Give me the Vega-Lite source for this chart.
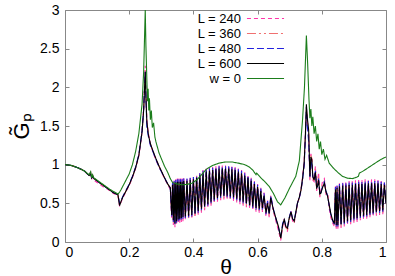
{
"$schema": "https://vega.github.io/schema/vega-lite/v6.json",
"width": 321, "height": 232,
"autosize": {"type": "none"},
"padding": {"left": 65, "top": 10, "right": 9, "bottom": 34},
"config": {
  "font": "Liberation Sans",
  "view": {"stroke": "#888888", "strokeWidth": 1},
  "axis": {"grid": false, "domain": false, "tickColor": "#888888", "tickSize": -4, "labelFontSize": 14, "labelColor": "#000000", "titleFontWeight": "normal", "titleColor": "#000000", "labelFont": "Liberation Sans", "titleFont": "Liberation Sans"}
},
"data": {"values": [
{"t":0,"240":1,"360":1,"480":1,"600":1,"w":1},
{"t":0.02,"240":0.99,"360":0.99,"480":0.99,"600":0.99,"w":0.99},
{"t":0.04,"240":0.96,"360":0.96,"480":0.96,"600":0.96,"w":0.96},
{"t":0.06,"240":0.92,"360":0.92,"480":0.92,"600":0.92,"w":0.92},
{"t":0.075,"240":0.86,"360":0.86,"480":0.86,"600":0.86,"w":0.87},
{"t":0.08,"240":0.9,"360":0.88,"480":0.88,"600":0.88,"w":0.91},
{"t":0.083,"240":0.81,"360":0.83,"480":0.83,"600":0.83,"w":0.83},
{"t":0.086,"240":0.87,"360":0.85,"480":0.85,"600":0.85,"w":0.87},
{"t":0.09,"240":0.8,"360":0.82,"480":0.82,"600":0.82,"w":0.83},
{"t":0.1,"240":0.77,"360":0.79,"480":0.79,"600":0.79,"w":0.8},
{"t":0.11,"240":0.74,"360":0.76,"480":0.76,"600":0.76,"w":0.77},
{"t":0.12,"240":0.71,"360":0.73,"480":0.73,"600":0.73,"w":0.74},
{"t":0.13,"240":0.69,"360":0.7,"480":0.7,"600":0.7,"w":0.71},
{"t":0.14,"240":0.66,"360":0.67,"480":0.67,"600":0.67,"w":0.68},
{"t":0.15,"240":0.63,"360":0.64,"480":0.64,"600":0.64,"w":0.655},
{"t":0.165,"240":0.6,"360":0.61,"480":0.61,"600":0.61,"w":0.62},
{"t":0.17,"240":0.46,"360":0.48,"480":0.5,"600":0.47,"w":0.645},
{"t":0.175,"240":0.52,"360":0.52,"480":0.54,"600":0.53,"w":0.68},
{"t":0.18,"240":0.57,"360":0.58,"480":0.59,"600":0.58,"w":0.72},
{"t":0.19,"240":0.65,"360":0.66,"480":0.67,"600":0.66,"w":0.8},
{"t":0.2,"240":0.73,"360":0.74,"480":0.75,"600":0.74,"w":0.88},
{"t":0.21,"240":0.83,"360":0.84,"480":0.85,"600":0.84,"w":1.0},
{"t":0.22,"240":0.95,"360":0.96,"480":0.97,"600":0.96,"w":1.17},
{"t":0.23,"240":1.11,"360":1.12,"480":1.13,"600":1.12,"w":1.4},
{"t":0.24,"240":1.42,"360":1.42,"480":1.44,"600":1.42,"w":1.78},
{"t":0.245,"240":1.72,"360":1.7,"480":1.72,"600":1.7,"w":2.2},
{"t":0.25,"240":2.28,"360":2.22,"480":2.2,"600":2.2,"w":3.0},
{"t":0.252,"240":1.95,"360":1.9,"480":1.88,"600":1.9,"w":2.55},
{"t":0.255,"240":1.58,"360":1.55,"480":1.48,"600":1.55,"w":2.1},
{"t":0.257,"w":1.82},
{"t":0.259,"w":1.98},
{"t":0.26,"240":1.4,"360":1.38,"480":1.36,"600":1.38},
{"t":0.261,"w":1.7},
{"t":0.263,"w":1.86},
{"t":0.266,"240":1.26,"360":1.27,"480":1.25,"600":1.27,"w":1.58},
{"t":0.269,"w":1.7},
{"t":0.272,"240":1.19,"360":1.2,"480":1.19,"600":1.2,"w":1.48},
{"t":0.276,"w":1.54},
{"t":0.28,"w":1.36},
{"t":0.283,"240":1.06,"360":1.08,"480":1.07,"600":1.08,"w":1.3},
{"t":0.293,"240":0.97,"360":0.98,"480":0.97,"600":0.98,"w":1.15},
{"t":0.3,"240":0.91,"360":0.92,"480":0.91,"600":0.92,"w":1.08},
{"t":0.31,"240":0.82,"360":0.83,"480":0.83,"600":0.83,"w":0.98},
{"t":0.32,"240":0.74,"360":0.75,"480":0.75,"600":0.75,"w":0.9},
{"t":0.328,"240":0.68,"360":0.7,"480":0.7,"600":0.7,"w":0.82},
{"t":0.3325,"240":0.3,"360":0.32,"480":0.33,"600":0.35},
{"t":0.335,"240":0.78,"360":0.76,"480":0.77,"600":0.74,"w":0.77},
{"t":0.3375,"240":0.22,"360":0.25,"480":0.26,"600":0.28},
{"t":0.34,"240":0.8,"360":0.78,"480":0.79,"600":0.76},
{"t":0.3425,"240":0.19,"360":0.21,"480":0.22,"600":0.24},
{"t":0.345,"240":0.81,"360":0.79,"480":0.8,"600":0.77},
{"t":0.3475,"240":0.22,"360":0.24,"480":0.25,"600":0.27},
{"t":0.35,"240":0.82,"360":0.8,"480":0.81,"600":0.78,"w":0.75},
{"t":0.3525,"240":0.24,"360":0.26,"480":0.27,"600":0.29},
{"t":0.355,"240":0.82,"360":0.8,"480":0.81,"600":0.78},
{"t":0.3575,"240":0.25,"360":0.27,"480":0.28,"600":0.3},
{"t":0.36,"240":0.83,"360":0.8,"480":0.81,"600":0.78},
{"t":0.3625,"240":0.26,"360":0.28,"480":0.29,"600":0.31},
{"t":0.365,"240":0.82,"360":0.8,"480":0.81,"600":0.78,"w":0.74},
{"t":0.3675,"240":0.27,"360":0.29,"480":0.3,"600":0.32},
{"t":0.37,"240":0.83,"360":0.81,"480":0.82,"600":0.79},
{"t":0.375,"240":0.28,"360":0.3,"480":0.31,"600":0.33},
{"t":0.38,"240":0.83,"360":0.81,"480":0.82,"600":0.79,"w":0.745},
{"t":0.385,"240":0.29,"360":0.31,"480":0.32,"600":0.34},
{"t":0.39,"240":0.84,"360":0.82,"480":0.83,"600":0.8},
{"t":0.395,"240":0.3,"360":0.32,"480":0.33,"600":0.35,"w":0.76},
{"t":0.4,"240":0.85,"360":0.83,"480":0.84,"600":0.81},
{"t":0.405,"240":0.32,"360":0.34,"480":0.35,"600":0.37},
{"t":0.41,"240":0.87,"360":0.85,"480":0.86,"600":0.83,"w":0.8},
{"t":0.415,"240":0.35,"360":0.37,"480":0.38,"600":0.4},
{"t":0.42,"240":0.9,"360":0.88,"480":0.89,"600":0.86},
{"t":0.425,"240":0.38,"360":0.4,"480":0.41,"600":0.43},
{"t":0.43,"240":0.93,"360":0.91,"480":0.92,"600":0.89,"w":0.89},
{"t":0.435,"240":0.41,"360":0.43,"480":0.44,"600":0.46},
{"t":0.44,"240":0.95,"360":0.93,"480":0.94,"600":0.91,"w":0.94},
{"t":0.445,"240":0.44,"360":0.46,"480":0.47,"600":0.49},
{"t":0.45,"240":0.96,"360":0.94,"480":0.95,"600":0.92},
{"t":0.455,"240":0.47,"360":0.49,"480":0.5,"600":0.52},
{"t":0.46,"240":0.97,"360":0.95,"480":0.96,"600":0.93,"w":0.99},
{"t":0.465,"240":0.5,"360":0.52,"480":0.53,"600":0.55},
{"t":0.47,"240":0.98,"360":0.96,"480":0.97,"600":0.94},
{"t":0.475,"240":0.52,"360":0.54,"480":0.55,"600":0.57},
{"t":0.48,"240":0.99,"360":0.97,"480":0.98,"600":0.95,"w":1.02},
{"t":0.485,"240":0.54,"360":0.56,"480":0.57,"600":0.59},
{"t":0.49,"240":0.99,"360":0.97,"480":0.98,"600":0.95},
{"t":0.495,"240":0.55,"360":0.57,"480":0.58,"600":0.6},
{"t":0.5,"240":0.99,"360":0.97,"480":0.98,"600":0.95,"w":1.035},
{"t":0.505,"240":0.55,"360":0.57,"480":0.58,"600":0.6},
{"t":0.51,"240":0.99,"360":0.97,"480":0.98,"600":0.95},
{"t":0.515,"240":0.54,"360":0.56,"480":0.57,"600":0.59},
{"t":0.52,"240":0.98,"360":0.96,"480":0.97,"600":0.94,"w":1.035},
{"t":0.525,"240":0.53,"360":0.55,"480":0.56,"600":0.58},
{"t":0.53,"240":0.97,"360":0.95,"480":0.96,"600":0.93},
{"t":0.535,"240":0.51,"360":0.53,"480":0.54,"600":0.56},
{"t":0.54,"240":0.95,"360":0.93,"480":0.94,"600":0.91,"w":1.02},
{"t":0.545,"240":0.49,"360":0.51,"480":0.52,"600":0.54},
{"t":0.55,"240":0.93,"360":0.91,"480":0.92,"600":0.89},
{"t":0.555,"240":0.47,"360":0.49,"480":0.5,"600":0.52},
{"t":0.56,"240":0.9,"360":0.88,"480":0.89,"600":0.86,"w":1.0},
{"t":0.565,"240":0.45,"360":0.47,"480":0.48,"600":0.5},
{"t":0.57,"240":0.87,"360":0.85,"480":0.86,"600":0.83},
{"t":0.574,"w":0.97},
{"t":0.575,"240":0.43,"360":0.45,"480":0.46,"600":0.48},
{"t":0.58,"240":0.83,"360":0.81,"480":0.82,"600":0.79},
{"t":0.585,"240":0.41,"360":0.43,"480":0.44,"600":0.46,"w":0.93},
{"t":0.59,"240":0.79,"360":0.77,"480":0.78,"600":0.75},
{"t":0.595,"240":0.39,"360":0.41,"480":0.42,"600":0.44,"w":0.87},
{"t":0.597,"w":0.89},
{"t":0.6,"240":0.75,"360":0.73,"480":0.74,"600":0.71},
{"t":0.605,"240":0.38,"360":0.4,"480":0.41,"600":0.43},
{"t":0.61,"240":0.7,"360":0.68,"480":0.69,"600":0.66,"w":0.83},
{"t":0.615,"240":0.39,"360":0.41,"480":0.42,"600":0.44},
{"t":0.62,"240":0.64,"360":0.62,"480":0.63,"600":0.6},
{"t":0.625,"w":0.77},
{"t":0.626,"240":0.33,"360":0.35,"480":0.36,"600":0.38},
{"t":0.631,"240":0.54,"360":0.52,"480":0.53,"600":0.5},
{"t":0.636,"240":0.32,"360":0.34,"480":0.35,"600":0.37,"w":0.72},
{"t":0.641,"240":0.6,"360":0.59,"480":0.6,"600":0.57},
{"t":0.649,"240":0.4,"360":0.41,"480":0.43,"600":0.42,"w":0.63},
{"t":0.657,"240":0.27,"360":0.29,"480":0.3,"600":0.31},
{"t":0.662,"w":0.52},
{"t":0.665,"240":0.15,"360":0.18,"480":0.19,"600":0.2},
{"t":0.672,"240":0.02,"360":0.04,"480":0.06,"600":0.05,"w":0.48},
{"t":0.678,"240":0.2,"360":0.21,"480":0.24,"600":0.22},
{"t":0.683,"240":0.3,"360":0.28,"480":0.3,"600":0.29},
{"t":0.685,"w":0.57},
{"t":0.688,"240":0.16,"360":0.19,"480":0.2,"600":0.2},
{"t":0.693,"240":0.14,"360":0.16,"480":0.18,"600":0.18},
{"t":0.698,"240":0.28,"360":0.29,"480":0.31,"600":0.3},
{"t":0.7,"w":0.7},
{"t":0.704,"240":0.4,"360":0.38,"480":0.4,"600":0.39},
{"t":0.709,"240":0.27,"360":0.29,"480":0.3,"600":0.3},
{"t":0.714,"240":0.24,"360":0.26,"480":0.28,"600":0.27},
{"t":0.719,"240":0.37,"360":0.37,"480":0.39,"600":0.38,"w":0.85},
{"t":0.724,"240":0.5,"360":0.49,"480":0.5,"600":0.5},
{"t":0.73,"240":0.58,"360":0.57,"480":0.57,"600":0.58,"w":1.05},
{"t":0.735,"240":0.68,"360":0.66,"480":0.66,"600":0.67},
{"t":0.74,"240":0.84,"360":0.8,"480":0.8,"600":0.82,"w":1.58},
{"t":0.745,"240":1.05,"360":1.0,"480":0.98,"600":1.02},
{"t":0.746,"w":2.0},
{"t":0.749,"240":1.42,"360":1.38,"480":1.35,"600":1.4},
{"t":0.752,"240":1.72,"360":1.74,"480":1.75,"600":1.78,"w":2.67},
{"t":0.755,"240":1.55,"360":1.57,"480":1.5,"600":1.6},
{"t":0.756,"w":2.3},
{"t":0.759,"240":1.4,"360":1.42,"480":1.3,"600":1.45},
{"t":0.76,"w":1.85},
{"t":0.763,"240":0.8,"360":0.82,"480":0.84,"600":0.85,"w":1.6},
{"t":0.766,"240":1.14,"360":1.12,"480":1.05,"600":1.1,"w":1.72},
{"t":0.769,"240":1.1,"360":1.08,"480":1.0,"600":1.06,"w":1.5},
{"t":0.772,"240":0.8,"360":0.83,"480":0.84,"600":0.85,"w":1.62},
{"t":0.776,"240":0.78,"360":0.79,"480":0.82,"600":0.8,"w":1.4},
{"t":0.78,"240":0.98,"360":0.95,"480":0.92,"600":0.9,"w":1.5},
{"t":0.784,"240":0.66,"360":0.68,"480":0.7,"600":0.7,"w":1.3},
{"t":0.787,"240":0.78,"360":0.76,"480":0.74,"600":0.72},
{"t":0.788,"w":1.4},
{"t":0.79,"240":0.9,"360":0.86,"480":0.82,"600":0.8},
{"t":0.792,"w":1.2},
{"t":0.794,"240":0.58,"360":0.6,"480":0.61,"600":0.62},
{"t":0.796,"w":1.3},
{"t":0.797,"240":0.66,"360":0.64,"480":0.63,"600":0.63},
{"t":0.8,"w":1.13},
{"t":0.802,"240":0.78,"360":0.75,"480":0.72,"600":0.7},
{"t":0.805,"w":1.2},
{"t":0.808,"240":0.82,"360":0.79,"480":0.78,"600":0.76},
{"t":0.81,"w":1.07},
{"t":0.813,"240":0.62,"360":0.64,"480":0.66,"600":0.65},
{"t":0.815,"w":1.12},
{"t":0.818,"240":0.64,"360":0.62,"480":0.6,"600":0.59},
{"t":0.823,"240":0.44,"360":0.46,"480":0.47,"600":0.48,"w":1.02},
{"t":0.828,"240":0.32,"360":0.35,"480":0.36,"600":0.37},
{"t":0.833,"240":0.25,"360":0.27,"480":0.28,"600":0.29},
{"t":0.835,"w":0.96},
{"t":0.839,"240":0.2,"360":0.22,"480":0.23,"600":0.24},
{"t":0.8425,"240":0.72,"360":0.7,"480":0.71,"600":0.68},
{"t":0.845,"240":0.17,"360":0.19,"480":0.2,"600":0.22},
{"t":0.8475,"240":0.74,"360":0.72,"480":0.73,"600":0.7},
{"t":0.85,"240":0.17,"360":0.19,"480":0.2,"600":0.22,"w":0.9},
{"t":0.855,"240":0.77,"360":0.74,"480":0.75,"600":0.72},
{"t":0.86,"240":0.18,"360":0.2,"480":0.21,"600":0.23},
{"t":0.864,"w":0.85},
{"t":0.865,"240":0.78,"360":0.75,"480":0.76,"600":0.73},
{"t":0.87,"240":0.2,"360":0.22,"480":0.23,"600":0.25},
{"t":0.875,"240":0.78,"360":0.75,"480":0.76,"600":0.73},
{"t":0.88,"240":0.22,"360":0.24,"480":0.25,"600":0.27,"w":0.825},
{"t":0.885,"240":0.79,"360":0.76,"480":0.77,"600":0.74},
{"t":0.89,"240":0.23,"360":0.25,"480":0.26,"600":0.28},
{"t":0.895,"240":0.79,"360":0.76,"480":0.77,"600":0.74},
{"t":0.896,"w":0.82},
{"t":0.9,"240":0.25,"360":0.27,"480":0.28,"600":0.3},
{"t":0.905,"240":0.8,"360":0.77,"480":0.78,"600":0.75},
{"t":0.91,"240":0.26,"360":0.28,"480":0.29,"600":0.31,"w":0.84},
{"t":0.914,"w":0.85},
{"t":0.915,"240":0.8,"360":0.77,"480":0.78,"600":0.75},
{"t":0.917,"w":0.89},
{"t":0.92,"240":0.28,"360":0.3,"480":0.31,"600":0.33},
{"t":0.925,"240":0.8,"360":0.77,"480":0.78,"600":0.75},
{"t":0.93,"240":0.29,"360":0.31,"480":0.32,"600":0.34,"w":0.92},
{"t":0.935,"240":0.81,"360":0.78,"480":0.79,"600":0.76},
{"t":0.94,"240":0.3,"360":0.32,"480":0.33,"600":0.35},
{"t":0.945,"240":0.81,"360":0.78,"480":0.79,"600":0.76},
{"t":0.948,"w":0.97},
{"t":0.95,"240":0.32,"360":0.34,"480":0.35,"600":0.37},
{"t":0.955,"240":0.81,"360":0.78,"480":0.79,"600":0.76},
{"t":0.96,"240":0.33,"360":0.35,"480":0.36,"600":0.38},
{"t":0.965,"240":0.81,"360":0.78,"480":0.79,"600":0.76},
{"t":0.97,"240":0.34,"360":0.36,"480":0.37,"600":0.39,"w":1.03},
{"t":0.975,"240":0.8,"360":0.78,"480":0.79,"600":0.76},
{"t":0.98,"240":0.35,"360":0.37,"480":0.38,"600":0.4},
{"t":0.985,"240":0.79,"360":0.77,"480":0.78,"600":0.75,"w":1.07},
{"t":0.99,"240":0.36,"360":0.38,"480":0.39,"600":0.41},
{"t":0.995,"240":0.78,"360":0.76,"480":0.77,"600":0.74},
{"t":1.0,"240":0.48,"360":0.49,"480":0.5,"600":0.5,"w":1.1}
]},
"transform": [
  {"fold": ["240", "360", "480", "600", "w"], "as": ["s", "v"]},
  {"filter": "isValid(datum.v)"}
],
"layer": [
  {
    "transform": [{"filter": "datum.s != 'w'"}],
    "mark": {"type": "line", "clip": true},
    "encoding": {
      "x": {"field": "t", "type": "quantitative", "scale": {"domain": [0, 1], "nice": false},
            "axis": {"orient": "bottom", "values": [0, 0.2, 0.4, 0.6, 0.8, 1], "format": "~g", "title": "θ", "titleFontSize": 21, "labelPadding": 7, "titlePadding": -3}},
      "y": {"field": "v", "type": "quantitative", "scale": {"domain": [0, 3], "nice": false},
            "axis": {"orient": "left", "values": [0, 0.5, 1, 1.5, 2, 2.5, 3], "format": "~g", "title": "G̃ₚ", "titleFontSize": 22, "labelPadding": 10, "titlePadding": 6}},
      "color": {"field": "s", "type": "nominal",
                "scale": {"domain": ["240", "360", "480", "600", "w"], "range": ["#ff33aa", "#f07070", "#2222dd", "#000000", "#1b7d1b"]},
                "legend": {"orient": "none", "legendX": 194, "legendY": 2, "title": null, "symbolType": "M-5,0H5", "symbolSize": 55, "labelAlign": "right", "labelOffset": -31, "labelFontSize": 13, "labelColor": "#000000", "rowPadding": 1,
                           "labelExpr": "datum.label == 'w' ? 'w = 0' : 'L = ' + datum.label"}},
      "strokeDash": {"field": "s", "type": "nominal",
                "scale": {"domain": ["240", "360", "480", "600", "w"], "range": [[4, 3], [9, 3, 2, 3, 2, 3], [7, 3], [1, 0], [1, 0]]}},
      "strokeWidth": {"field": "s", "type": "nominal",
                "scale": {"domain": ["240", "360", "480", "600", "w"], "range": [1.1, 1.1, 1.1, 1, 2]}}
    }
  },
  {
    "transform": [{"filter": "datum.s == 'w'"}],
    "mark": {"type": "line", "clip": true},
    "encoding": {
      "x": {"field": "t", "type": "quantitative", "axis": {"orient": "top", "values": [0, 0.2, 0.4, 0.6, 0.8, 1], "labels": false, "title": null}},
      "y": {"field": "v", "type": "quantitative", "axis": {"orient": "right", "values": [0, 0.5, 1, 1.5, 2, 2.5, 3], "labels": false, "title": null}},
      "color": {"field": "s", "type": "nominal"},
      "strokeDash": {"field": "s", "type": "nominal"},
      "strokeWidth": {"field": "s", "type": "nominal"}
    }
  }
],
"resolve": {"axis": {"x": "independent", "y": "independent"}}
}
